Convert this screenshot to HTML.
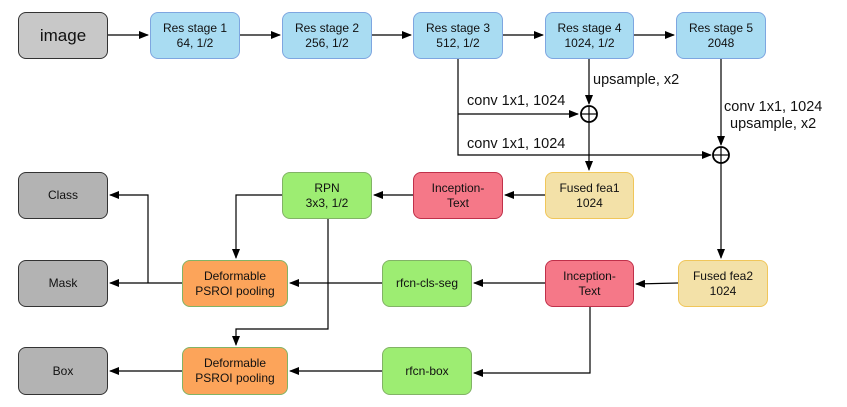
<!DOCTYPE html>
<html><head><style>
body{margin:0;background:#fff;width:847px;height:407px;overflow:hidden;position:relative;font-family:"Liberation Sans",sans-serif}
.b{position:absolute;box-sizing:border-box;border-radius:8px;display:flex;align-items:center;justify-content:center;text-align:center;font-size:12px;line-height:15px;color:#111}
.g{background:#b3b3b3;border:1px solid #333}
.bl{background:#a9dcf2;border:1px solid #7ea6e0}
.gr{background:#9ded72;border:1px solid #82b366}
.r{background:#f57888;border:1px solid #c0304a}
.y{background:#f3e1a8;border:1px solid #f0c65a}
.o{background:#fca45a;border:1px solid #82b366}
svg{position:absolute;left:0;top:0}
.t{font-size:14.5px;fill:#111;font-family:"Liberation Sans",sans-serif}
</style></head><body>
<svg width="847" height="407">
<defs><marker id="a" markerWidth="10" markerHeight="8" refX="9" refY="4" orient="auto" markerUnits="userSpaceOnUse"><path d="M0,0 L10,4 L0,8 z" fill="#000"/></marker></defs>
<g stroke="#000" stroke-width="1.2" fill="none">
<line x1="108" y1="35" x2="148" y2="35" marker-end="url(#a)"/>
<line x1="240" y1="35" x2="280" y2="35" marker-end="url(#a)"/>
<line x1="372" y1="35" x2="411" y2="35" marker-end="url(#a)"/>
<line x1="503" y1="35" x2="543" y2="35" marker-end="url(#a)"/>
<line x1="634" y1="35" x2="674" y2="35" marker-end="url(#a)"/>
<polyline points="458,59 458,155 711,155" marker-end="url(#a)"/>
<line x1="458" y1="114" x2="578" y2="114" marker-end="url(#a)"/>
<line x1="589" y1="59" x2="589" y2="104" marker-end="url(#a)"/>
<line x1="589" y1="122" x2="589" y2="170" marker-end="url(#a)"/>
<line x1="721" y1="59" x2="721" y2="145" marker-end="url(#a)"/>
<line x1="721" y1="163" x2="721" y2="258" marker-end="url(#a)"/>
<circle cx="589" cy="114" r="8" stroke-width="1.8"/>
<line x1="581" y1="114" x2="597" y2="114"/><line x1="589" y1="106" x2="589" y2="122"/>
<circle cx="721" cy="155" r="8" stroke-width="1.8"/>
<line x1="713" y1="155" x2="729" y2="155"/><line x1="721" y1="147" x2="721" y2="163"/>
<line x1="545" y1="195" x2="505" y2="195" marker-end="url(#a)"/>
<line x1="413" y1="195" x2="374" y2="195" marker-end="url(#a)"/>
<polyline points="282,195 236,195 236,258" marker-end="url(#a)"/>
<polyline points="148,283 148,195 110,195" marker-end="url(#a)"/>
<line x1="182" y1="283" x2="110" y2="283" marker-end="url(#a)"/>
<line x1="382" y1="283" x2="290" y2="283" marker-end="url(#a)"/>
<line x1="545" y1="283" x2="474" y2="283" marker-end="url(#a)"/>
<line x1="678" y1="283" x2="636" y2="284" marker-end="url(#a)"/>
<polyline points="590,307 590,373 474,373" marker-end="url(#a)"/>
<polyline points="328,219 328,329 236,329 236,345" marker-end="url(#a)"/>
<line x1="382" y1="371" x2="290" y2="371" marker-end="url(#a)"/>
<line x1="182" y1="371" x2="110" y2="371" marker-end="url(#a)"/>
</g>
<text class="t" x="593" y="84">upsample, x2</text>
<text class="t" x="467" y="105">conv 1x1, 1024</text>
<text class="t" x="467" y="148">conv 1x1, 1024</text>
<text class="t" x="724" y="111">conv 1x1, 1024</text>
<text class="t" x="730" y="128">upsample, x2</text>
</svg>
<div class="b" style="left:18px;top:12px;width:90px;height:47px;background:#c8c8c8;border:1px solid #333;font-size:17px">image</div>
<div class="b bl" style="left:150px;top:12px;width:90px;height:47px">Res stage 1<br>64, 1/2</div>
<div class="b bl" style="left:282px;top:12px;width:90px;height:47px">Res stage 2<br>256, 1/2</div>
<div class="b bl" style="left:413px;top:12px;width:90px;height:47px">Res stage 3<br>512, 1/2</div>
<div class="b bl" style="left:545px;top:12px;width:89px;height:47px">Res stage 4<br>1024, 1/2</div>
<div class="b bl" style="left:676px;top:12px;width:90px;height:47px">Res stage 5<br>2048</div>
<div class="b g" style="left:18px;top:172px;width:90px;height:47px">Class</div>
<div class="b gr" style="left:282px;top:172px;width:90px;height:47px">RPN<br>3x3, 1/2</div>
<div class="b r" style="left:413px;top:172px;width:90px;height:47px">Inception-<br>Text</div>
<div class="b y" style="left:545px;top:172px;width:89px;height:47px">Fused fea1<br>1024</div>
<div class="b g" style="left:18px;top:260px;width:90px;height:47px">Mask</div>
<div class="b o" style="left:182px;top:260px;width:106px;height:47px">Deformable<br>PSROI pooling</div>
<div class="b gr" style="left:382px;top:260px;width:90px;height:47px">rfcn-cls-seg</div>
<div class="b r" style="left:545px;top:260px;width:89px;height:47px">Inception-<br>Text</div>
<div class="b y" style="left:678px;top:260px;width:90px;height:47px">Fused fea2<br>1024</div>
<div class="b g" style="left:18px;top:347px;width:90px;height:48px">Box</div>
<div class="b o" style="left:182px;top:347px;width:106px;height:48px">Deformable<br>PSROI pooling</div>
<div class="b gr" style="left:382px;top:347px;width:90px;height:48px">rfcn-box</div>
</body></html>
